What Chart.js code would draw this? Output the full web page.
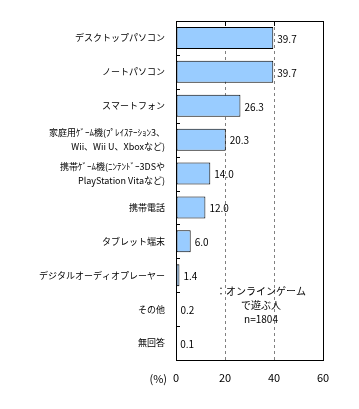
<!DOCTYPE html>
<html>
<head>
<meta charset="utf-8">
<script src="https://cdn.jsdelivr.net/npm/chart.js@4"></script>
<style>
  html, body { margin: 0; padding: 0; background: #fff; }
  #wrap { width: 359px; height: 409px; }
</style>
</head>
<body>
<div id="wrap"><canvas id="chart" width="359" height="409"></canvas></div>
<script>
const categories = [
  'デスクトップパソコン',
  'ノートパソコン',
  'スマートフォン',
  ['家庭用ｹﾞｰﾑ機(ﾌﾟﾚｲｽﾃｰｼｮﾝ3、', 'Wii、Wii U、Xboxなど)'],
  ['携帯ｹﾞｰﾑ機(ﾆﾝﾃﾝﾄﾞｰ3DSや', 'PlayStation Vitaなど)'],
  '携帯電話',
  'タブレット端末',
  'デジタルオーディオプレーヤー',
  'その他',
  '無回答'
];
const values = [39.7, 39.7, 26.3, 20.3, 14.0, 12.0, 6.0, 1.4, 0.2, 0.1];
const xTicks = [0, 20, 40, 60];
const noteLines = ['：オンラインゲーム', 'で遊ぶ人', 'n=1804'];
const unitLabel = '(%)';

const FONT = '"Noto Sans CJK JP", "DejaVu Sans", sans-serif';

const extras = {
  id: 'extras',
  afterDatasetsDraw(chart) {
    const { ctx, chartArea: a, scales: { x, y } } = chart;
    ctx.save();
    // small ticks at category boundaries on the left axis
    ctx.strokeStyle = '#000';
    ctx.lineWidth = 1;
    for (let i = 1; i < categories.length; i++) {
      const py = Math.round((y.getPixelForValue(i - 1) + y.getPixelForValue(i)) / 2) + 0.5;
      ctx.beginPath();
      ctx.moveTo(a.left, py);
      ctx.lineTo(a.left + 4, py);
      ctx.stroke();
    }
    // short ticks at top
    xTicks.slice(1, -1).forEach(v => {
      const px = Math.round(x.getPixelForValue(v)) + 0.5;
      ctx.beginPath();
      ctx.moveTo(px, a.top);
      ctx.lineTo(px, a.top + 5);
      ctx.stroke();
    });
    // value labels
    ctx.fillStyle = '#000';
    ctx.font = '10px ' + FONT;
    ctx.textBaseline = 'middle';
    ctx.textAlign = 'left';
    values.forEach((v, i) => {
      const px = x.getPixelForValue(v);
      const py = y.getPixelForValue(i);
      ctx.fillText(v.toFixed(1), px + 4, py + 1);
    });
    // note
    ctx.textAlign = 'center';
    ctx.font = '10px ' + FONT;
    const cx = 261;
    noteLines.forEach((t, i) => {
      ctx.fillText(t, cx, 291 + i * 14);
    });
    // unit
    ctx.font = '11px ' + FONT;
    ctx.textAlign = 'right';
    ctx.fillText(unitLabel, 167, 379);
    ctx.restore();
  }
};

new Chart(document.getElementById('chart'), {
  type: 'bar',
  data: {
    labels: categories,
    datasets: [{
      data: values,
      backgroundColor: '#99ccff',
      borderColor: '#000',
      borderWidth: 1,
      borderSkipped: false,
      categoryPercentage: 1,
      barPercentage: 0.65
    }]
  },
  options: {
    indexAxis: 'y',
    responsive: false,
    animation: false,
    layout: { padding: { top: 21, right: 36, left: 0, bottom: 0 } },
    plugins: { legend: { display: false }, tooltip: { enabled: false } },
    scales: {
      x: {
        min: 0,
        max: 60,
        afterBuildTicks: s => { s.ticks = xTicks.map(v => ({ value: v })); },
        afterFit: s => { s.height = 49; },
        grid: {
          color: ctx => (ctx.tick && (ctx.tick.value === 20 || ctx.tick.value === 40)) ? '#808080' : 'rgba(0,0,0,0)',
          drawTicks: false,
          lineWidth: 1
        },
        border: { display: false, dash: [3, 3] },
        ticks: { color: '#000', font: { family: FONT, size: 11 }, padding: 11 }
      },
      y: {
        afterFit: s => { s.width = 176; },
        grid: { display: false, drawTicks: false },
        border: { display: false },
        ticks: {
          color: '#000',
          font: { family: FONT, size: 9, lineHeight: 1.5 },
          padding: 11
        }
      }
    }
  },
  plugins: [{
    id: 'frame',
    afterDraw(chart) {
      const { ctx, chartArea: a } = chart;
      ctx.save();
      ctx.strokeStyle = '#000';
      ctx.lineWidth = 1;
      ctx.strokeRect(Math.round(a.left) + 0.5, Math.round(a.top) + 0.5, Math.round(a.right - a.left), Math.round(a.bottom - a.top));
      ctx.restore();
    }
  }, extras]
});
</script>
</body>
</html>
